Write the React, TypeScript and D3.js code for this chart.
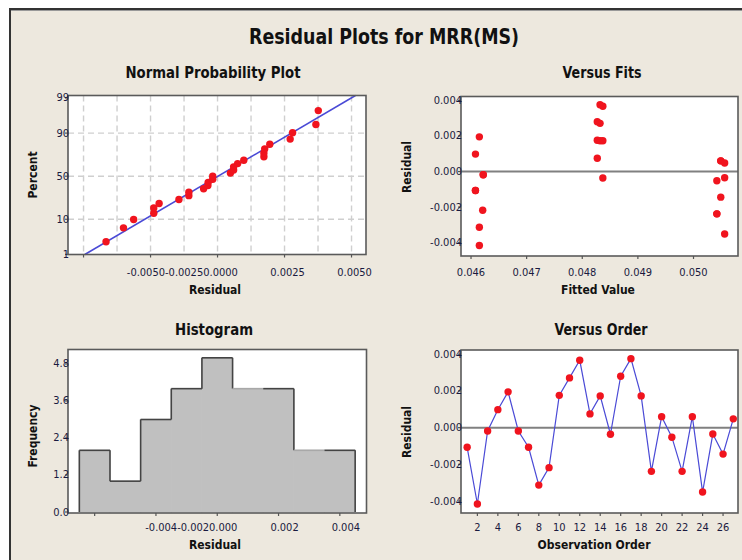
import React, { useEffect, useRef } from "react";
import * as d3 from "d3";

// residuals in observation order
const residuals = [
  -0.00107, -0.00416, -0.00018, 0.00098, 0.00195, -0.00018, -0.00107, -0.00313, -0.00218,
  0.00176, 0.00271, 0.00367, 0.00075, 0.00173, -0.00036, 0.0028, 0.00376, 0.00173,
  -0.00238, 0.0006, -0.00052, -0.00238, 0.0006, -0.00351, -0.00035, -0.00144, 0.00048,
];
// fitted values, same order
const fittedValues = [
  0.04608, 0.04615, 0.04622, 0.04608, 0.04615, 0.04622, 0.04608, 0.04615, 0.04621,
  0.04827, 0.04832, 0.04837, 0.04827, 0.04832, 0.04837, 0.04827, 0.04832, 0.04837,
  0.05042, 0.05049, 0.05042, 0.05042, 0.05049, 0.05056, 0.05056, 0.05049, 0.05056,
];

const percentTicks = [1, 10, 50, 90, 99];
const percentGrid = [10, 50, 90];
const probXTicks = [-0.005, -0.0025, 0, 0.0025, 0.005];
const probXLabels = ["-0.0050", "-0.0025", "0.0000", "0.0025", "0.0050"];
const probXGrid = [-0.005, -0.00375, -0.0025, -0.00125, 0, 0.00125, 0.0025, 0.00375, 0.005];

const fitsTicks = [0.046, 0.047, 0.048, 0.049, 0.05];
const fitsLabels = ["0.046", "0.047", "0.048", "0.049", "0.050"];

const residTicks = [-0.004, -0.002, 0, 0.002, 0.004];
const residLabels = ["-0.004", "-0.002", "0.000", "0.002", "0.004"];

const histEdges = [-0.0045, -0.0035, -0.0025, -0.0015, -0.0005, 0.0005, 0.0015, 0.0025, 0.0035, 0.0045];
const freqTicks = [0, 1.2, 2.4, 3.6, 4.8];
const freqLabels = ["0.0", "1.2", "2.4", "3.6", "4.8"];

const orderTicks = [2, 4, 6, 8, 10, 12, 14, 16, 18, 20, 22, 24, 26];

const FONT = "'Liberation Sans Narrow','DejaVu Sans Condensed',sans-serif";
const BG = "#EDE8DE";
const RED = "#F0141E";
const BLUE = "#4A4AD6";
const TICK_SIZE = 11;

// inverse standard normal cdf (Acklam)
function qnorm(p: number) {
  const a = [-39.69683028665376, 220.9460984245205, -275.9285104469687, 138.357751867269, -30.66479806614716, 2.506628277459239];
  const b = [-54.47609879822406, 161.5858368580409, -155.6989798598866, 66.80131188771972, -13.28068155288572];
  const c = [-0.007784894002430293, -0.3223964580411365, -2.400758277161838, -2.549732539343734, 4.374664141464968, 2.938163982698783];
  const d = [0.007784695709041462, 0.3224671290700398, 2.445134137142996, 3.754408661907416];
  const pl = 0.02425;
  if (p < pl) {
    const q = Math.sqrt(-2 * Math.log(p));
    return (((((c[0] * q + c[1]) * q + c[2]) * q + c[3]) * q + c[4]) * q + c[5]) / ((((d[0] * q + d[1]) * q + d[2]) * q + d[3]) * q + 1);
  }
  if (p > 1 - pl) {
    const q = Math.sqrt(-2 * Math.log(1 - p));
    return -(((((c[0] * q + c[1]) * q + c[2]) * q + c[3]) * q + c[4]) * q + c[5]) / ((((d[0] * q + d[1]) * q + d[2]) * q + d[3]) * q + 1);
  }
  const q = p - 0.5;
  const r = q * q;
  return ((((((a[0] * r + a[1]) * r + a[2]) * r + a[3]) * r + a[4]) * r + a[5]) * q) / (((((b[0] * r + b[1]) * r + b[2]) * r + b[3]) * r + b[4]) * r + 1);
}

type Box = { x0: number; x1: number; y0: number; y1: number };

function frame(g: any, b: Box) {
  g.append("rect").attr("x", b.x0).attr("y", b.y0).attr("width", b.x1 - b.x0).attr("height", b.y1 - b.y0)
    .attr("fill", "#fff");
}
function border(g: any, b: Box) {
  g.append("rect").attr("x", b.x0).attr("y", b.y0).attr("width", b.x1 - b.x0).attr("height", b.y1 - b.y0)
    .attr("fill", "none").attr("stroke", "#5a5a5a").attr("stroke-width", 1.6);
}

function yLabels(g: any, y: any, ticks: number[], labels: string[], b: Box) {
  ticks.forEach((t, i) => {
    g.append("line").attr("x1", b.x0 - 3).attr("x2", b.x0).attr("y1", y(t)).attr("y2", y(t))
      .attr("stroke", "#555").attr("stroke-width", 1.2);
    g.append("text").attr("x", b.x0 + 1).attr("y", y(t)).attr("text-anchor", "end")
      .attr("dominant-baseline", "central").attr("font-family", FONT).attr("font-size", TICK_SIZE)
      .attr("fill", "#1a1a40").text(labels[i]);
  });
}

function xTickMarks(g: any, x: any, ticks: number[], b: Box) {
  ticks.forEach((t) => {
    g.append("line").attr("x1", x(t)).attr("x2", x(t)).attr("y1", b.y1).attr("y2", b.y1 + 3)
      .attr("stroke", "#555").attr("stroke-width", 1.2);
  });
}

function xLabels(g: any, x: any, ticks: number[], labels: string[], ty: number) {
  ticks.forEach((t, i) => {
    g.append("text").attr("x", x(t)).attr("y", ty).attr("text-anchor", "middle")
      .attr("dominant-baseline", "central").attr("font-family", FONT).attr("font-size", TICK_SIZE)
      .attr("fill", "#1a1a40").text(labels[i]);
  });
}

// crowded labels: zero and positives centred, negatives pushed left of their neighbour
function chainLabels(g: any, x: any, ticks: number[], labels: string[], ty: number, shift: number) {
  const texts = labels.map((l) =>
    g.append("text").attr("y", ty).attr("dominant-baseline", "central").attr("font-family", FONT)
      .attr("font-size", TICK_SIZE).attr("fill", "#1a1a40").text(l)
  );
  const w = texts.map((t: any) => t.node().getComputedTextLength());
  const left: number[] = [];
  const zi = ticks.indexOf(0);
  for (let i = zi; i < ticks.length; i++) left[i] = x(ticks[i]) + shift - w[i] / 2;
  for (let i = zi - 1; i >= 0; i--) left[i] = left[i + 1] - w[i];
  texts.forEach((t: any, i: number) => t.attr("x", left[i]));
}

function axisTitle(g: any, text: string, x: number, y: number, rotate = false) {
  const t = g.append("text").attr("x", x).attr("y", y).attr("text-anchor", "middle")
    .attr("dominant-baseline", "central").attr("font-family", FONT).attr("font-weight", "bold")
    .attr("font-size", 12).attr("fill", "#111").text(text);
  if (rotate) t.attr("transform", `rotate(-90,${x},${y})`);
}

function panelTitle(g: any, text: string, x: number, y: number, len: number) {
  g.append("text").attr("x", x).attr("y", y).attr("text-anchor", "middle")
    .attr("dominant-baseline", "central").attr("font-family", FONT).attr("font-weight", "bold")
    .attr("font-size", 15).attr("fill", "#111").attr("textLength", len)
    .attr("lengthAdjust", "spacingAndGlyphs").text(text);
}

function dot(g: any, cx: number, cy: number) {
  g.append("circle").attr("cx", cx).attr("cy", cy).attr("r", 3.7).attr("fill", RED);
}

export default function App() {
  const ref = useRef<SVGSVGElement>(null);

  useEffect(() => {
    const svg = d3.select(ref.current);
    svg.selectAll("*").remove();

    svg.append("rect").attr("width", 742).attr("height", 560).attr("fill", "#fff");
    svg.append("rect").attr("x", 9).attr("y", 8).attr("width", 740).attr("height", 560).attr("fill", BG);
    svg.append("line").attr("x1", 9).attr("x2", 742).attr("y1", 9).attr("y2", 9).attr("stroke", "#333").attr("stroke-width", 2);
    svg.append("line").attr("x1", 10).attr("x2", 10).attr("y1", 8).attr("y2", 560).attr("stroke", "#333").attr("stroke-width", 2);
    svg.append("line").attr("x1", 11).attr("x2", 742).attr("y1", 10.5).attr("y2", 10.5).attr("stroke", "#999").attr("stroke-width", 1);

    svg.append("text").attr("x", 384).attr("y", 37).attr("text-anchor", "middle")
      .attr("dominant-baseline", "central").attr("font-family", FONT).attr("font-weight", "bold")
      .attr("font-size", 21).attr("fill", "#111").attr("textLength", 270)
      .attr("lengthAdjust", "spacingAndGlyphs").text("Residual Plots for MRR(MS)");

    const n = residuals.length;

    // ---- Normal probability plot ----
    {
      const g = svg.append("g");
      const b: Box = { x0: 68, x1: 366, y0: 95.5, y1: 254.5 };
      const x = d3.scaleLinear().domain([-0.00558, 0.00554]).range([b.x0, b.x1]);
      const y = d3.scaleLinear().domain([-2.33, 2.4]).range([b.y1, b.y0]);
      frame(g, b);
      probXGrid.forEach((t) => {
        g.append("line").attr("x1", x(t)).attr("x2", x(t)).attr("y1", b.y0).attr("y2", b.y1)
          .attr("stroke", "#cfcfcf").attr("stroke-width", 1.4).attr("stroke-dasharray", "6,4");
      });
      percentGrid.forEach((p) => {
        const yy = y(qnorm(p / 100));
        g.append("line").attr("x1", b.x0).attr("x2", b.x1).attr("y1", yy).attr("y2", yy)
          .attr("stroke", "#cfcfcf").attr("stroke-width", 1.4).attr("stroke-dasharray", "6,4");
      });
      const mu = d3.mean(residuals)!;
      const sd = d3.deviation(residuals)!;
      const zLo = -2.33, zHi = (x.domain()[1] - mu) / sd;
      g.append("line").attr("x1", x(mu + sd * zLo)).attr("y1", y(zLo))
        .attr("x2", x(mu + sd * Math.min(zHi, 2.4))).attr("y2", y(Math.min(zHi, 2.4)))
        .attr("stroke", BLUE).attr("stroke-width", 1.5);
      const sorted = residuals.slice().sort(d3.ascending);
      sorted.forEach((r, i) => dot(g, x(r), y(qnorm((i + 1 - 0.3) / (n + 0.4)))));
      border(g, b);
      yLabels(g, (p: number) => y(qnorm(p / 100)), percentTicks, percentTicks.map(String), b);
      xTickMarks(g, x, probXTicks, b);
      chainLabels(g, x, probXTicks, probXLabels, 272, 3);
      axisTitle(g, "Residual", 215, 290);
      axisTitle(g, "Percent", 33, 175, true);
      panelTitle(g, "Normal  Probability  Plot", 213, 73, 175);
    }

    // ---- Versus Fits ----
    {
      const g = svg.append("g");
      const b: Box = { x0: 461, x1: 738, y0: 96.5, y1: 256 };
      const x = d3.scaleLinear().domain([0.04582, 0.0508]).range([b.x0, b.x1]);
      const y = d3.scaleLinear().domain([-0.00475, 0.00422]).range([b.y1, b.y0]);
      frame(g, b);
      g.append("line").attr("x1", b.x0).attr("x2", b.x1).attr("y1", y(0)).attr("y2", y(0))
        .attr("stroke", "#808080").attr("stroke-width", 2);
      residuals.forEach((r, i) => dot(g, x(fittedValues[i]), y(r)));
      border(g, b);
      yLabels(g, y, residTicks, residLabels, b);
      xTickMarks(g, x, fitsTicks, b);
      xLabels(g, x, fitsTicks, fitsLabels, 272);
      axisTitle(g, "Fitted  Value", 598, 290);
      axisTitle(g, "Residual", 407, 167, true);
      panelTitle(g, "Versus  Fits", 602, 73, 79);
    }

    // ---- Histogram ----
    {
      const g = svg.append("g");
      const b: Box = { x0: 68, x1: 366.5, y0: 349.5, y1: 513 };
      const x = d3.scaleLinear().domain([-0.00487, 0.00487]).range([b.x0, b.x1]);
      const y = d3.scaleLinear().domain([0, 5.27]).range([512, b.y0]);
      frame(g, b);
      const bins = d3.bin().domain([histEdges[0], histEdges[histEdges.length - 1]])
        .thresholds(histEdges.slice(1, -1))(residuals);
      g.selectAll("rect.bar").data(bins).enter().append("rect").attr("class", "bar")
        .attr("x", (d: any) => x(d.x0)).attr("width", (d: any) => x(d.x1) - x(d.x0))
        .attr("y", (d: any) => y(d.length)).attr("height", (d: any) => y(0) - y(d.length))
        .attr("fill", "#c0c0c0").attr("stroke", "#c0c0c0").attr("stroke-width", 1);
      // outline of the staircase, tops lighter where the next bar is equally tall
      bins.forEach((d: any, i: number) => {
        const prev = i === 0 ? 0 : bins[i - 1].length;
        g.append("line").attr("x1", x(d.x0)).attr("x2", x(d.x0)).attr("y1", y(prev)).attr("y2", y(d.length))
          .attr("stroke", "#444").attr("stroke-width", 1.6);
        const nextSame = i < bins.length - 1 && bins[i + 1].length === d.length;
        g.append("line").attr("x1", x(d.x0)).attr("x2", x(d.x1)).attr("y1", y(d.length)).attr("y2", y(d.length))
          .attr("stroke", nextSame ? "#a8a8a8" : "#444").attr("stroke-width", 1.6);
        if (i === bins.length - 1) {
          g.append("line").attr("x1", x(d.x1)).attr("x2", x(d.x1)).attr("y1", y(d.length)).attr("y2", y(0))
            .attr("stroke", "#444").attr("stroke-width", 1.6);
        }
      });
      border(g, b);
      yLabels(g, y, freqTicks, freqLabels, b);
      xTickMarks(g, x, residTicks, b);
      chainLabels(g, x, residTicks, residLabels, 527, 6);
      axisTitle(g, "Residual", 215, 545);
      axisTitle(g, "Frequency", 33, 436, true);
      panelTitle(g, "Histogram", 214, 330, 78);
    }

    // ---- Versus Order ----
    {
      const g = svg.append("g");
      const b: Box = { x0: 461, x1: 738, y0: 350, y1: 513 };
      const x = d3.scaleLinear().domain([0.4, 27.46]).range([b.x0, b.x1]);
      const y = d3.scaleLinear().domain([-0.00465, 0.00423]).range([b.y1, b.y0]);
      frame(g, b);
      g.append("line").attr("x1", b.x0).attr("x2", b.x1).attr("y1", y(0)).attr("y2", y(0))
        .attr("stroke", "#808080").attr("stroke-width", 2);
      const line = d3.line<number>().x((_, i) => x(i + 1)).y((d) => y(d));
      g.append("path").attr("d", line(residuals)!).attr("fill", "none")
        .attr("stroke", BLUE).attr("stroke-width", 1.2);
      residuals.forEach((r, i) => dot(g, x(i + 1), y(r)));
      border(g, b);
      yLabels(g, y, residTicks, residLabels, b);
      xTickMarks(g, x, orderTicks, b);
      xLabels(g, x, orderTicks, orderTicks.map(String), 527);
      axisTitle(g, "Observation  Order", 594, 545);
      axisTitle(g, "Residual", 407, 432, true);
      panelTitle(g, "Versus  Order", 601, 330, 93);
    }
  }, []);

  return (
    <svg ref={ref} width={742} height={560}
      style={{ position: "absolute", left: 0, top: 0, display: "block" }} />
  );
}
